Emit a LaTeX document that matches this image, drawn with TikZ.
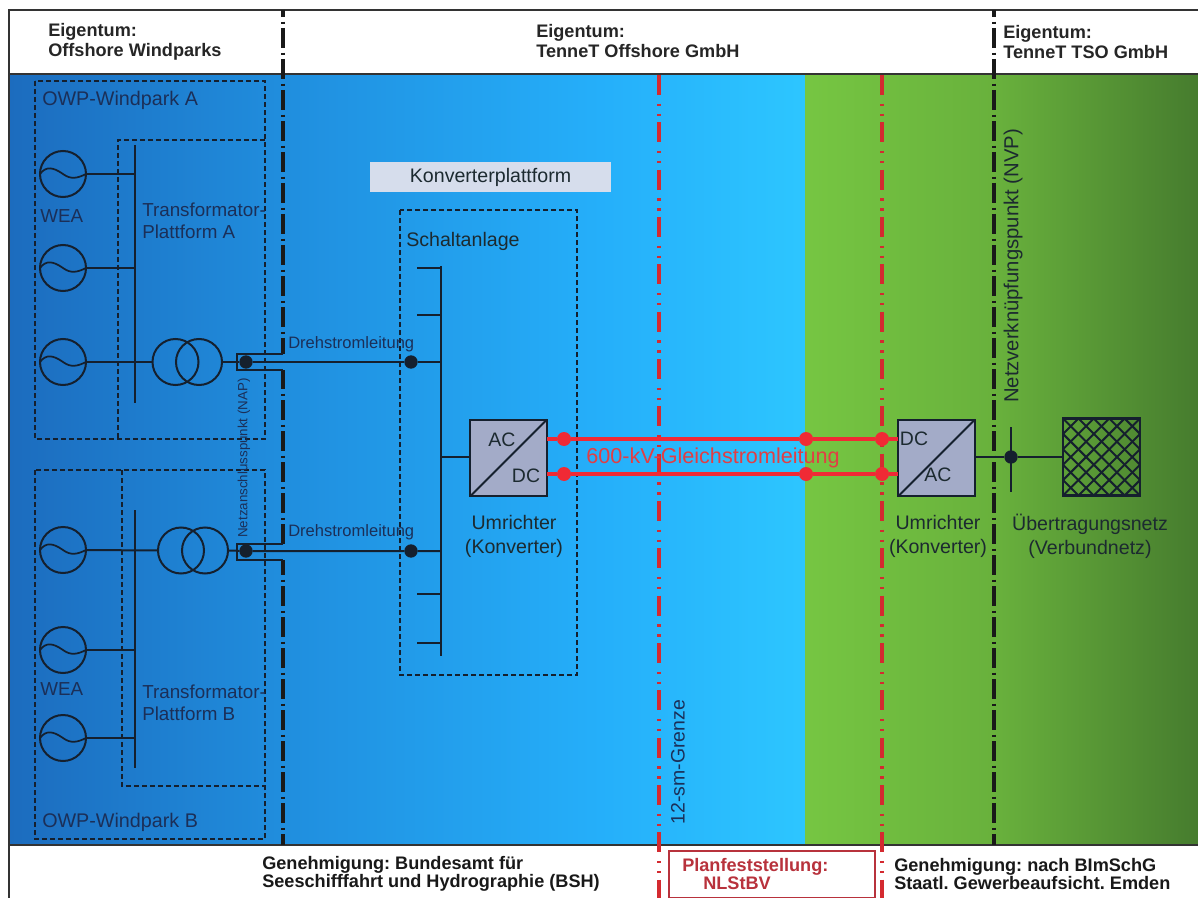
\documentclass[tikz,border=0pt]{standalone}
\usepackage{fontspec}
\setmainfont{Liberation Sans}
\frenchspacing
\definecolor{inkblue}{HTML}{1B2F58}
\definecolor{inkdark}{HTML}{1C2A30}
\definecolor{linedark}{HTML}{15202E}
\definecolor{redline}{HTML}{D42A30}
\definecolor{dcred}{HTML}{F02A35}
\definecolor{boxred}{HTML}{B8323C}
\definecolor{convfill}{HTML}{A3ABC8}
\definecolor{platfill}{HTML}{D6DDEC}
\newcommand{\fsz}[2]{\fontsize{#1}{#2}\selectfont}
\newcommand{\gener}[3]{%
  \node[genbox] (#1) at (#2,#3) {};
  \draw[wire,line width=1.3pt] (#1.west) .. controls +(6,-8) and +(-10,-7) .. (#1.center) .. controls +(8,6) and +(-8,4) .. (#1.east);
}
\tikzset{
  x=0.75pt,y=-0.75pt,
  wire/.style={draw=linedark,line width=1.5pt},
  busbar/.style={draw=linedark,line width=2.1pt},
  genbox/.style={circle,draw=linedark,line width=1.5pt,minimum size=34.5pt,inner sep=0pt,outer sep=0pt},
  dashbox/.style={draw=linedark,line width=1pt,dash pattern=on 3.6pt off 2.4pt},
  blackborder/.style={draw=black!90,line width=2.4pt,dash pattern=on 15pt off 3.4pt on 1.5pt off 3.35pt},
  redborder/.style={draw=redline,line width=2.3pt,dash pattern=on 15pt off 6.4pt on 1.9pt off 5.6pt on 1.9pt off 4.7pt},
  dotblack/.style={circle,fill=linedark,minimum size=10pt,inner sep=0pt,outer sep=0pt},
  dotred/.style={circle,fill=dcred,minimum size=10.5pt,inner sep=0pt,outer sep=0pt},
  convbox/.style={draw=linedark,fill=convfill,line width=1.6pt,minimum size=57.5pt,inner sep=0pt,outer sep=0pt},
  labelmain/.style={text=inkblue,inner sep=0pt,font=\fsz{14.1}{16.5}},
  labeldark/.style={text=inkdark,inner sep=0pt,font=\fsz{14.7}{18}},
  converttext/.style={text=inkdark,inner sep=0pt,font=\fsz{14.6}{18}},
  headtext/.style={text=black!85,inner sep=0pt,anchor=west,align=left,font=\fsz{13.6}{15.4}\bfseries},
  foottext/.style={text=black!90,inner sep=0pt,anchor=west,align=left,font=\fsz{13.6}{12.2}\bfseries},
}
\begin{document}
\begin{tikzpicture}
\useasboundingbox (0,0) rectangle (1198,898);
\fill[white] (0,0) rectangle (1198,898);
% background gradients
\shade[left color={rgb,255:red,28;green,108;blue,190},right color={rgb,255:red,32;green,142;blue,222}] (9,74) rectangle (286,845);
\shade[left color={rgb,255:red,32;green,142;blue,222},right color={rgb,255:red,37;green,175;blue,250}] (285,74) rectangle (601,845);
\shade[left color={rgb,255:red,37;green,175;blue,250},right color={rgb,255:red,45;green,198;blue,255}] (600,74) rectangle (806,845);
\shade[left color={rgb,255:red,118;green,198;blue,66},right color={rgb,255:red,104;green,176;blue,60}] (805,74) rectangle (1001,845);
\shade[left color={rgb,255:red,104;green,176;blue,60},right color={rgb,255:red,70;green,124;blue,46}] (1000,74) rectangle (1198,845);
% frame
\draw[draw=black!80,line width=1.5pt] (9,898) -- (9,10) -- (1198,10);
\draw[draw=black!80,line width=1.5pt] (9,74) -- (1198,74);
\draw[draw=black!80,line width=1.5pt] (9,845) -- (1198,845);
% ownership and permit borders
\coordinate (bA) at (283,10);
\coordinate (bB) at (283,354);
\coordinate (bC) at (237,354);
\coordinate (bD) at (237,370);
\coordinate (bE) at (283,370);
\coordinate (bF) at (283,544);
\coordinate (bG) at (237,544);
\coordinate (bH) at (237,560);
\coordinate (bI) at (283,560);
\coordinate (bJ) at (283,845);
\draw[blackborder,dash phase=9.75pt] (bA) -- (bB);
\draw[blackborder,dash phase=0.75pt] (bE) -- (bF);
\draw[blackborder,dash phase=3.75pt] (bI) -- (bJ);
\draw[wire] (bB) -- (bC) -- (bD) -- (bE);
\draw[wire] (bF) -- (bG) -- (bH) -- (bI);
\coordinate (nA) at (994,10);
\coordinate (nB) at (994,845);
\draw[blackborder,dash phase=9.75pt] (nA) -- (nB);
\coordinate (rA) at (659,75);
\coordinate (rB) at (659,898);
\coordinate (rC) at (882,75);
\coordinate (rD) at (882,898);
\draw[redborder] (rA) -- (rB);
\draw[redborder] (rC) -- (rD);
% dashed areas
\draw[dashbox] (35,81) rectangle (265,439);
\draw[dashbox] (265,140) -- (118,140) -- (118,439);
\draw[dashbox] (35,470) rectangle (265,839);
\draw[dashbox] (122,470) -- (122,786) -- (265,786);
\draw[dashbox] (400,210) rectangle (577,675);
% wind farm A
\coordinate (busAt) at (135,145);
\coordinate (busAb) at (135,403);
\draw[busbar] (busAt) -- (busAb);
\gener{g1}{63}{174}
\gener{g2}{63}{268}
\gener{g3}{63}{362}
\draw[wire] (g1.east) -- (g1.east -| busAt);
\draw[wire] (g2.east) -- (g2.east -| busAt);
\node[genbox] (t1a) at (175.5,362) {};
\node[genbox] (t1b) at (199,362) {};
\draw[wire] (g3.east) -- (t1a.west);
% wind farm B
\coordinate (busBt) at (135,510);
\coordinate (busBb) at (135,768);
\draw[busbar] (busBt) -- (busBb);
\gener{g4}{63}{550}
\gener{g5}{63}{650}
\gener{g6}{63}{738}
\draw[wire] (g5.east) -- (g5.east -| busBt);
\draw[wire] (g6.east) -- (g6.east -| busBt);
\node[genbox] (t2a) at (181,550.5) {};
\node[genbox] (t2b) at (205,550.5) {};
\draw[wire] (g4.east) -- (t2a.west);
% AC lines
\node[dotblack] (napA) at (246,362) {};
\node[dotblack] (napB) at (246,551) {};
\node[dotblack] (kA) at (411,362) {};
\node[dotblack] (kB) at (411,551) {};
\coordinate (sbt) at (441,266);
\coordinate (sbb) at (441,656);
\draw[wire] (t1b.east) -- (napA) -- (kA) -- (kA -| sbt);
\draw[wire] (t2b.east) -- (napB) -- (kB) -- (kB -| sbt);
\draw[busbar] (sbt) -- (sbb);
\foreach \s/\yy in {a/268,b/315,c/594,d/643}{
  \coordinate (stub\s) at (417,\yy);
  \draw[wire] (stub\s) -- (stub\s -| sbt);
}
% platform label
\node[fill=platfill,minimum width=180.75pt,minimum height=22.5pt,inner sep=0pt,text=inkdark,font=\fsz{14.7}{18}] (plat) at (490.5,177) {Konverterplattform};
% converters
\node[convbox] (cv1) at (508.5,458) {};
\draw[wire] (cv1.south west) -- (cv1.north east);
\node[converttext] (cv1ac) at (502,440) {AC};
\node[converttext] (cv1dc) at (526,476) {DC};
\node[convbox] (cv2) at (936.5,458) {};
\draw[wire] (cv2.south west) -- (cv2.north east);
\node[converttext] (cv2dc) at (914,439) {DC};
\node[converttext] (cv2ac) at (938,475) {AC};
\draw[wire] (cv1.west |- 0,457) -- (sbt |- 0,457);
% DC lines
\node[dotred] (d1) at (564,439) {};
\node[dotred] (d2) at (564,474) {};
\node[dotred] (d3) at (806,439) {};
\node[dotred] (d4) at (806,474) {};
\node[dotred] (d5) at (882,439) {};
\node[dotred] (d6) at (882,474) {};
\draw[draw=dcred,line width=3pt] (cv1.east |- d1) -- (d1) -- (d3) -- (d5) -- (cv2.west |- d5);
\draw[draw=dcred,line width=3pt] (cv1.east |- d2) -- (d2) -- (d4) -- (d6) -- (cv2.west |- d6);
\node[text={rgb,255:red,226;green,62;blue,68},inner sep=0pt,font=\fsz{16.2}{18}] (dcl) at (713,458) {600-kV-Gleichstromleitung};
% NVP and grid
\node[dotblack] (nvp) at (1011,457) {};
\coordinate (nvt) at (1011,427);
\coordinate (nvb) at (1011,492);
\draw[wire] (nvt) -- (nvb);
\node[draw=linedark,line width=1.8pt,minimum size=57.5pt,inner sep=0pt,outer sep=0pt] (grid) at (1101.5,457) {};
\begin{scope}
\clip (grid.south west) rectangle (grid.north east);
\foreach \k in {-5,...,5}{
  \draw[wire,line width=1.5pt] (1101.5+\k*15.4-77,457-77) -- (1101.5+\k*15.4+77,457+77);
  \draw[wire,line width=1.5pt] (1101.5+\k*15.4-77,457+77) -- (1101.5+\k*15.4+77,457-77);
}
\end{scope}
\draw[wire] (cv2.east |- nvp) -- (nvp) -- (grid.west |- nvp);
% labels
\node[labelmain,anchor=west,font=\fsz{14.8}{18}] (owpa) at (42,100) {OWP-Windpark A};
\node[labelmain,anchor=west,font=\fsz{14.8}{18}] (owpb) at (42,822) {OWP-Windpark B};
\node[labelmain,anchor=west] (wea1) at (40,216) {WEA};
\node[labelmain,anchor=west] (wea2) at (40,689) {WEA};
\node[labelmain,anchor=west,align=left] (tpa) at (142,221) {Transformator-\\Plattform A};
\node[labelmain,anchor=west,align=left] (tpb) at (142,703) {Transformator-\\Plattform B};
\node[labelmain,anchor=west,font=\fsz{12.4}{14}] (dsa) at (288,344) {Drehstromleitung};
\node[labelmain,anchor=west,font=\fsz{12.4}{14}] (dsb) at (288,532) {Drehstromleitung};
\node[labelmain,rotate=90,font=\fsz{10}{12}] (nap) at (244,458) {Netzanschlusspunkt (NAP)};
\node[labeldark,anchor=west] (scha) at (406,241) {Schaltanlage};
\node[labeldark,align=center] (um1) at (514,536) {Umrichter\\(Konverter)};
\node[labeldark,align=center] (um2) at (938,536) {Umrichter\\(Konverter)};
\node[labeldark,align=center] (uen) at (1090,536) {Übertragungsnetz\\(Verbundnetz)};
\node[labeldark,rotate=90,font=\fsz{15.2}{18}] (nvpl) at (1013,266) {Netzverknüpfungspunkt (NVP)};
\node[labelmain,rotate=90,font=\fsz{14.6}{18}] (sm) at (678,762) {12-sm-Grenze};
% header
\node[headtext] (h1) at (48,42) {Eigentum:\\Offshore Windparks};
\node[headtext] (h2) at (536,41) {Eigentum:\\TenneT Offshore GmbH};
\node[headtext] (h3) at (1003,42) {Eigentum:\\TenneT TSO GmbH};
% footer
\node[foottext] (f1) at (262,874) {Genehmigung: Bundesamt für\\Seeschifffahrt und Hydrographie (BSH)};
\node[draw=boxred,line width=1.4pt,fill=white,minimum width=154.5pt,minimum height=35.25pt,inner sep=0pt,outer sep=0pt] (fb) at (772,874.5) {};
\node[text=boxred,inner sep=0pt,anchor=west,align=left,font=\fsz{13.6}{12.2}\bfseries] (f2) at (682,874) {Planfeststellung:\\\hspace*{15.75pt}NLStBV};
\node[foottext] (f3) at (894,874) {Genehmigung: nach BImSchG\\Staatl. Gewerbeaufsicht. Emden};
\end{tikzpicture}
\end{document}
